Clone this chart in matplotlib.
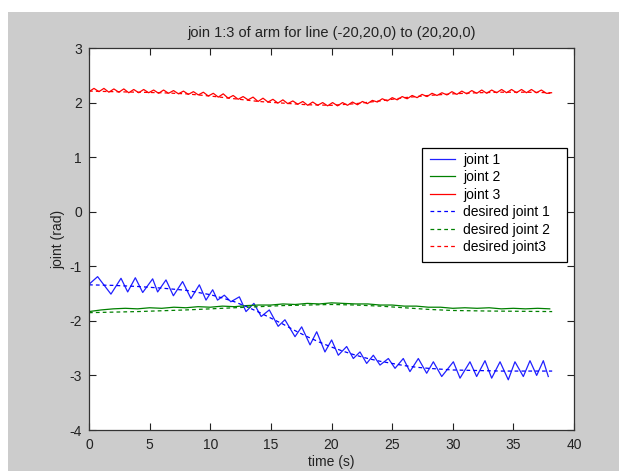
import matplotlib
matplotlib.use("Agg")
import matplotlib.pyplot as plt
from matplotlib.patches import Rectangle

plt.rcParams['font.family'] = ['Liberation Sans', 'DejaVu Sans']
plt.rcParams['font.size'] = 10
plt.rcParams['axes.unicode_minus'] = False

# joint 1 (actual), peak / trough points
j1_t = [0.0, 0.71, 1.81, 2.64, 3.19, 3.82, 4.43, 5.25, 5.66, 6.35, 6.96, 7.72, 8.41,
        9.10, 9.65, 10.20, 10.60, 11.16, 11.70, 12.40, 12.95, 13.60, 14.20, 14.87,
        15.60, 16.16, 16.99, 17.54, 18.23, 18.78, 19.46, 20.01, 20.56, 21.25, 21.80,
        22.35, 22.90, 23.45, 24.00, 24.69, 25.24, 25.92, 26.47, 27.16, 27.85, 28.40,
        29.09, 30.05, 30.60, 31.42, 31.97, 32.66, 33.21, 33.90, 34.58, 35.13, 35.82,
        36.37, 36.92, 37.47, 37.88]
j1_v = [-1.33, -1.19, -1.51, -1.22, -1.47, -1.21, -1.48, -1.23, -1.47, -1.25, -1.54,
        -1.28, -1.59, -1.34, -1.62, -1.43, -1.62, -1.53, -1.65, -1.56, -1.83, -1.68,
        -1.92, -1.80, -2.10, -1.98, -2.29, -2.11, -2.44, -2.20, -2.57, -2.35, -2.63,
        -2.47, -2.69, -2.57, -2.78, -2.63, -2.81, -2.69, -2.87, -2.69, -2.93, -2.69,
        -2.96, -2.75, -3.02, -2.75, -3.05, -2.75, -3.02, -2.73, -3.05, -2.75, -3.08,
        -2.75, -3.02, -2.73, -3.00, -2.73, -3.02]

# joint 2 (actual)
j2_t = [0, 1, 2, 3, 4, 5, 6, 7, 8, 9, 10, 11, 12, 13, 14, 15, 16, 17, 18, 19, 20,
        21, 22, 23, 24, 25, 26, 27, 28, 29, 30, 31, 32, 33, 34, 35, 36, 37, 38]
j2_v = [-1.83, -1.80, -1.78, -1.77, -1.78, -1.76, -1.77, -1.75, -1.76, -1.74, -1.75,
        -1.73, -1.74, -1.72, -1.71, -1.71, -1.69, -1.70, -1.68, -1.69, -1.67, -1.68,
        -1.69, -1.69, -1.71, -1.71, -1.73, -1.73, -1.75, -1.75, -1.77, -1.76, -1.77,
        -1.76, -1.78, -1.77, -1.78, -1.77, -1.78]

# joint 3 (actual)
j3_t = [0.00, 0.41, 0.82, 1.23, 1.64, 2.05, 2.46, 2.87, 3.28, 3.69, 4.10, 4.51, 4.92,
        5.33, 5.74, 6.15, 6.56, 6.97, 7.38, 7.79, 8.20, 8.61, 9.02, 9.43, 9.84, 10.25,
        10.66, 11.07, 11.48, 11.89, 12.30, 12.71, 13.12, 13.53, 13.94, 14.35, 14.76,
        15.17, 15.58, 15.99, 16.40, 16.81, 17.22, 17.63, 18.04, 18.45, 18.86, 19.27,
        19.68, 20.09, 20.50, 20.91, 21.32, 21.73, 22.14, 22.55, 22.96, 23.37, 23.78,
        24.19, 24.60, 25.01, 25.42, 25.83, 26.24, 26.65, 27.06, 27.47, 27.88, 28.29,
        28.70, 29.11, 29.52, 29.93, 30.34, 30.75, 31.16, 31.57, 31.98, 32.39, 32.80,
        33.21, 33.62, 34.03, 34.44, 34.85, 35.26, 35.67, 36.08, 36.49, 36.90, 37.31,
        37.72, 38.00]
j3_v = [2.20, 2.26, 2.20, 2.26, 2.19, 2.25, 2.19, 2.25, 2.18, 2.24, 2.18, 2.24, 2.18,
        2.23, 2.17, 2.23, 2.17, 2.22, 2.16, 2.21, 2.15, 2.20, 2.14, 2.19, 2.12, 2.17,
        2.10, 2.16, 2.08, 2.13, 2.06, 2.11, 2.05, 2.10, 2.02, 2.08, 2.01, 2.06, 1.99,
        2.05, 1.98, 2.03, 1.97, 2.02, 1.95, 2.01, 1.95, 2.00, 1.94, 2.00, 1.94, 2.00,
        1.95, 2.01, 1.96, 2.02, 1.98, 2.04, 2.01, 2.07, 2.03, 2.09, 2.05, 2.11, 2.07,
        2.13, 2.09, 2.15, 2.11, 2.17, 2.13, 2.18, 2.14, 2.20, 2.15, 2.21, 2.16, 2.22,
        2.17, 2.23, 2.17, 2.23, 2.18, 2.24, 2.18, 2.24, 2.18, 2.24, 2.18, 2.24, 2.18,
        2.23, 2.17, 2.17]

# desired trajectories
d1_t = [0, 2, 4, 6, 8, 10, 11, 12, 13, 14, 15, 16, 17, 18, 19, 20, 21, 22, 23, 24,
        25, 26, 27, 28, 30, 32, 34, 36, 38.2]
d1_v = [-1.34, -1.35, -1.37, -1.40, -1.44, -1.52, -1.58, -1.65, -1.74, -1.84, -1.95,
        -2.06, -2.18, -2.29, -2.39, -2.48, -2.56, -2.63, -2.69, -2.74, -2.78, -2.82,
        -2.85, -2.87, -2.90, -2.91, -2.92, -2.92, -2.92]
d2_t = [0, 4, 8, 12, 14, 16, 18, 20, 22, 24, 26, 28, 30, 33, 38.2]
d2_v = [-1.85, -1.83, -1.80, -1.76, -1.74, -1.72, -1.71, -1.70, -1.71, -1.73, -1.76,
        -1.79, -1.81, -1.82, -1.83]
d3_t = [0, 2, 4, 6, 8, 10, 12, 14, 16, 18, 20, 22, 24, 26, 28, 30, 32, 34, 36, 38.2]
d3_v = [2.21, 2.20, 2.19, 2.18, 2.16, 2.12, 2.07, 2.02, 1.99, 1.96, 1.95, 1.98, 2.03,
        2.09, 2.13, 2.16, 2.18, 2.19, 2.19, 2.18]

fig = plt.figure(figsize=(6.19, 4.71), dpi=100, facecolor='white')
fig.add_artist(Rectangle((8 / 619, 0), 1, 459 / 471, transform=fig.transFigure,
                         facecolor='#cccccc', edgecolor='none', zorder=-10))

ax = fig.add_axes([89 / 619, 41 / 471, 485 / 619, 382 / 471])
ax.plot(j1_t, j1_v, color='#2020ff', lw=0.9, label='joint 1')
ax.plot(j2_t, j2_v, color='#008000', lw=0.9, label='joint 2')
ax.plot(j3_t, j3_v, color='#ff0000', lw=0.9, label='joint 3')
ax.plot(d1_t, d1_v, '--', color='#0000ff', lw=0.9, dashes=(3, 2.5), label='desired joint 1')
ax.plot(d2_t, d2_v, '--', color='#008000', lw=0.9, dashes=(3, 2.5), label='desired joint 2')
ax.plot(d3_t, d3_v, '--', color='#ff0000', lw=0.9, dashes=(3, 2.5), label='desired joint3')

ax.set_xlim(0, 40)
ax.set_ylim(-4, 3)
ax.set_xticks(range(0, 41, 5))
ax.set_yticks(range(-4, 4))
ax.tick_params(direction='in', top=True, right=True, length=5, width=0.8,
               colors='#222222', labelcolor='#222222')
ax.tick_params(axis='x', pad=6)
ax.tick_params(axis='y', pad=5)
for s in ax.spines.values():
    s.set_color('#333333')
    s.set_linewidth(0.9)

ax.set_title('join 1:3 of arm for line (-20,20,0) to (20,20,0)', fontsize=10.5,
             pad=8, color='#222222')
ax.set_xlabel('time (s)', labelpad=2, color='#222222')
ax.set_ylabel('joint (rad)', labelpad=3, color='#222222')

# legend box with the wide right margin
ax.add_patch(Rectangle((0.6866, 0.4398), 0.299, 0.2984, transform=ax.transAxes,
                       facecolor='white', edgecolor='black', lw=0.9, zorder=4))
leg = ax.legend(loc='upper left', bbox_to_anchor=(0.703, 0.726), borderaxespad=0,
                frameon=False, handlelength=1.8, handletextpad=0.58,
                labelspacing=0.25, borderpad=0)
leg.set_zorder(5)

fig.savefig('out.png', dpi=100, facecolor=fig.get_facecolor())
